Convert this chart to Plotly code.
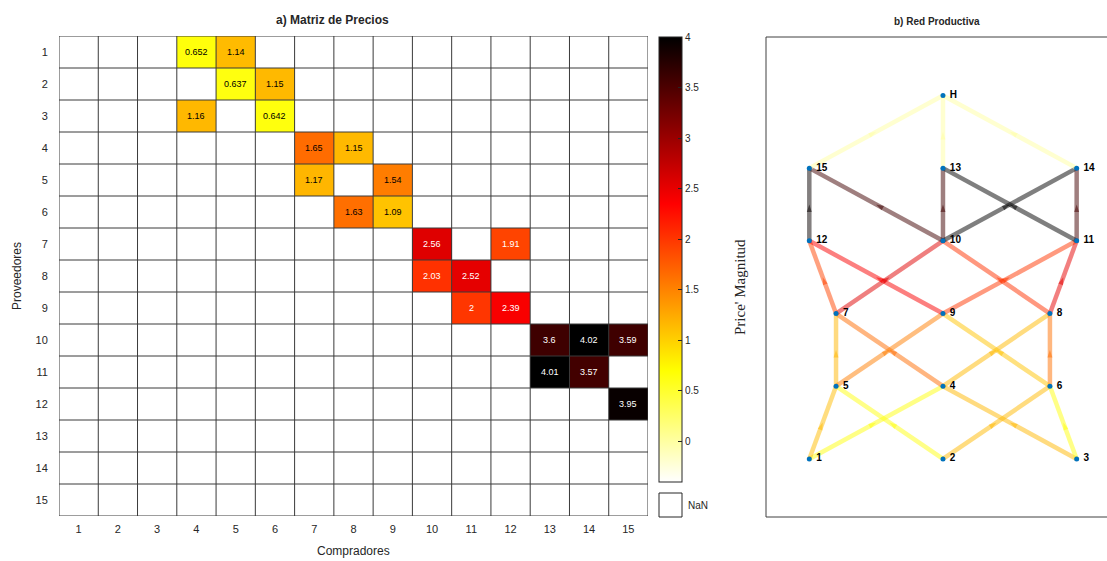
import plotly.graph_objects as go
import numpy as np

# ---------------- data ----------------
n_nodes = 15
providers = list(range(1, 16))
buyers = list(range(1, 16))
# (provider, buyer, price)
edge_src = [1, 1, 2, 2, 3, 3, 4, 4, 5, 5, 6, 6, 7, 7, 8, 8, 9, 9, 10, 10, 10, 11, 11, 12]
edge_dst = [4, 5, 5, 6, 4, 6, 7, 8, 7, 9, 8, 9, 10, 12, 10, 11, 11, 12, 13, 14, 15, 13, 14, 15]
edge_price = [0.652, 1.14, 0.637, 1.15, 1.16, 0.642, 1.65, 1.15, 1.17, 1.54, 1.63, 1.09,
              2.56, 1.91, 2.03, 2.52, 2.0, 2.39, 3.6, 4.02, 3.59, 4.01, 3.57, 3.95]
# final links to the hub H (not in matrix -> NaN there)
sink_src = [13, 14, 15]
sink_price = [0.0, 0.0, 0.0]

# network layout (layered)
node_names = ["1", "2", "3", "4", "5", "6", "7", "8", "9", "10", "11", "12", "13", "14", "15", "H"]
node_x = [1, 2, 3, 2, 1.2, 2.8, 1.2, 2.8, 2, 2, 3, 1, 2, 3, 1, 2]
node_y = [1, 1, 1, 2, 2, 2, 3, 3, 3, 4, 4, 4, 5, 5, 5, 6]

cbar_ticks = [0, 0.5, 1, 1.5, 2, 2.5, 3, 3.5, 4]
zmin, zmax = -0.4, 4.0

W, H = 1107, 561
def px(x): return x / W
def py(y): return 1 - y / H

# colormap: flipped "hot"
cscale = [[0, "rgb(255,255,255)"], [0.25, "rgb(255,255,0)"], [0.625, "rgb(255,0,0)"], [1, "rgb(0,0,0)"]]
def cmap(v, alpha=1.0):
    t = min(max((v - zmin) / (zmax - zmin), 0), 1)
    stops = [(0, (255, 255, 255)), (0.25, (255, 255, 0)), (0.625, (255, 0, 0)), (1, (0, 0, 0))]
    for (t0, c0), (t1, c1) in zip(stops[:-1], stops[1:]):
        if t <= t1:
            f = (t - t0) / (t1 - t0)
            c = [round(a + (b - a) * f) for a, b in zip(c0, c1)]
            return f"rgba({c[0]},{c[1]},{c[2]},{alpha})"
    return f"rgba(0,0,0,{alpha})"

# price matrix
Z = np.full((n_nodes, n_nodes), np.nan)
for s, d, p in zip(edge_src, edge_dst, edge_price):
    Z[s - 1, d - 1] = p

fig = go.Figure()

fig.add_trace(go.Heatmap(
    z=Z, x=buyers, y=providers, zmin=zmin, zmax=zmax, colorscale=cscale,
    hoverongaps=False, xaxis="x", yaxis="y",
    colorbar=dict(x=px(659), xanchor="left", xpad=0, ypad=0, thickness=23, thicknessmode="pixels",
                  len=(482 - 37) / H, lenmode="fraction", y=py(37), yanchor="top",
                  outlinewidth=1, outlinecolor="#262626", ticks="inside", ticklen=4,
                  tickcolor="#262626", tickvals=cbar_ticks,
                  tickfont=dict(size=10, color="#262626", family="Liberation Sans")),
))

annotations = []
shapes = []
for s, d, p in zip(edge_src, edge_dst, edge_price):
    annotations.append(dict(x=d, y=s, xref="x", yref="y", text=f"{p:.3g}", showarrow=False,
                            font=dict(size=9, family="Liberation Sans",
                                      color="white" if p > 1.8 else "black")))
for k in range(n_nodes + 1):
    shapes.append(dict(type="line", xref="x", yref="y", x0=k + 0.5, x1=k + 0.5, y0=0.5, y1=n_nodes + 0.5,
                       line=dict(color="#3a3a3a", width=1), layer="above"))
    shapes.append(dict(type="line", xref="x", yref="y", y0=k + 0.5, y1=k + 0.5, x0=0.5, x1=n_nodes + 0.5,
                       line=dict(color="#3a3a3a", width=1), layer="above"))

# NaN legend box
shapes.append(dict(type="rect", xref="paper", yref="paper", x0=px(659), x1=px(682), y0=py(517), y1=py(493),
                   line=dict(color="#262626", width=1), fillcolor="white"))
annotations.append(dict(x=px(686), y=py(505), xref="paper", yref="paper", text="NaN", showarrow=False,
                        xanchor="left", yanchor="middle",
                        font=dict(size=10, color="#262626", family="Liberation Sans")))

# network frame (right side lies beyond the visible page)
box_l, box_r, box_t, box_b = px(766), px(1130), py(37), py(517)
for x0, y0, x1, y1 in [(box_l, box_b, box_l, box_t), (box_l, box_t, box_r, box_t), (box_l, box_b, box_r, box_b)]:
    shapes.append(dict(type="line", xref="paper", yref="paper", x0=x0, y0=y0, x1=x1, y1=y1,
                       line=dict(color="#404040", width=1)))

# ---------------- network ----------------
all_src = edge_src + sink_src
all_dst = edge_dst + [16] * len(sink_src)
all_price = edge_price + sink_price
for s, d, p in zip(all_src, all_dst, all_price):
    x0, y0 = node_x[s - 1], node_y[s - 1]
    x1, y1 = node_x[d - 1], node_y[d - 1]
    fig.add_trace(go.Scatter(x=[x0, x1], y=[y0, y1], mode="lines", xaxis="x2", yaxis="y2",
                             line=dict(color=cmap(p, 0.5), width=4.5), hoverinfo="skip", showlegend=False))
for s, d, p in zip(all_src, all_dst, all_price):
    x0, y0 = node_x[s - 1], node_y[s - 1]
    x1, y1 = node_x[d - 1], node_y[d - 1]
    fig.add_trace(go.Scatter(x=[x0, (x0 + x1) / 2], y=[y0, (y0 + y1) / 2], mode="markers",
                             xaxis="x2", yaxis="y2", hoverinfo="skip", showlegend=False,
                             marker=dict(symbol="arrow", size=[0, 8], angleref="previous",
                                         color=cmap(p, 0.75), line=dict(width=0))))

fig.add_trace(go.Scatter(x=node_x, y=node_y, mode="markers+text", xaxis="x2", yaxis="y2",
                         text=[" " + n for n in node_names], textposition="middle right",
                         textfont=dict(size=10, color="black", family="Liberation Sans", weight="bold"),
                         marker=dict(color="#0072BD", size=5), showlegend=False, cliponaxis=False))

# titles and labels
def label(x, y, text, size, family="Liberation Sans", angle=0):
    return dict(x=px(x), y=py(y), xref="paper", yref="paper", text=text, showarrow=False,
                xanchor="center", yanchor="middle", textangle=angle,
                font=dict(size=size, color="#262626", family=family))

annotations += [
    label(332, 20, "<b>a) Matriz de Precios</b>", 12),
    label(937, 22, "<b>b) Red Productiva</b>", 10),
    label(17, 276, "Proveedores", 12, angle=-90),
    label(353, 551, "Compradores", 12),
    label(740, 287, "Price' Magnitud", 15, family="Liberation Serif", angle=-90),
]

fig.update_layout(
    width=W, height=H, margin=dict(l=0, r=0, t=0, b=0),
    paper_bgcolor="white", plot_bgcolor="white", showlegend=False,
    xaxis=dict(domain=[px(59), px(648)], range=[0.5, 15.5], tickvals=buyers, showgrid=False, zeroline=False,
               ticks="outside", ticklen=3, tickcolor="rgba(0,0,0,0)", anchor="y",
               tickfont=dict(size=11, color="#262626", family="Liberation Sans")),
    yaxis=dict(domain=[py(516), py(36)], range=[15.5, 0.5], tickvals=providers, showgrid=False, zeroline=False,
               ticks="outside", ticklen=8, tickcolor="rgba(0,0,0,0)", anchor="x",
               tickfont=dict(size=11, color="#262626", family="Liberation Sans")),
    xaxis2=dict(domain=[px(766), 1.0], range=[0.676, 3.227], showgrid=False, zeroline=False,
                anchor="y2", showticklabels=False, ticks="", showline=False),
    yaxis2=dict(domain=[py(517), py(37)], range=[0.201, 6.804], showgrid=False, zeroline=False,
                anchor="x2", showticklabels=False, ticks="", showline=False),
    annotations=annotations, shapes=shapes,
)

fig.write_html("out.html", config={"displayModeBar": False},
               post_script="document.body.style.margin='0';document.body.style.overflow='hidden';")
